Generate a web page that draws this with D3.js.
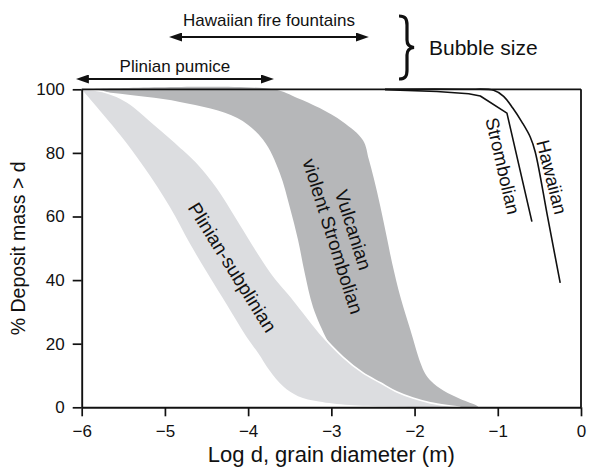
<!DOCTYPE html>
<html>
<head>
<meta charset="utf-8">
<script src="https://cdn.jsdelivr.net/npm/d3@7"></script>
<style>
  html, body { margin: 0; padding: 0; background: #fff; }
  svg { display: block; font-family: "Liberation Sans", Arial, Helvetica, sans-serif; }
</style>
</head>
<body>
<svg id="chart" width="597" height="469"></svg>
<script>
// Axis ticks
const xTicks = [-6, -5, -4, -3, -2, -1, 0];
const yTicks = [0, 20, 40, 60, 80, 100];

// Grain-size envelopes: [log d (m), % deposit mass > d]
// coarse edge runs top -> bottom on the right side of a field, fine edge on the left side
const plinianCoarseEdge = [
  [-6.0, 100], [-5.75, 99.3], [-5.45, 96], [-5.15, 89.5], [-4.82, 82], [-4.60, 76.5],
  [-4.37, 69], [-4.15, 60], [-3.94, 51], [-3.70, 41.5], [-3.46, 34], [-3.14, 23.4],
  [-2.86, 15.8], [-2.62, 10.8], [-2.41, 7.7], [-2.21, 4.8], [-2.02, 2.9], [-1.81, 1.4],
  [-1.57, 0.4], [-1.45, 0]
];
const plinianFineEdge = [
  [-6.0, 100], [-5.54, 85.7], [-5.25, 75.5], [-4.94, 63], [-4.70, 51.5], [-4.49, 42.2],
  [-4.25, 32], [-4.01, 21.8], [-3.88, 17.1], [-3.74, 11.5], [-3.58, 6.6], [-3.40, 3.5],
  [-3.15, 1.8], [-2.78, 0.7], [-1.97, 0]
];
const vulcanianCoarseEdge = [
  [-6.0, 100], [-3.70, 100], [-3.41, 97.3], [-3.14, 94.1], [-2.86, 89.7], [-2.62, 84],
  [-2.55, 78], [-2.49, 72], [-2.41, 63], [-2.33, 53], [-2.27, 45.4], [-2.17, 34.7],
  [-2.05, 24.3], [-1.93, 14.0], [-1.87, 10.5], [-1.80, 8.2], [-1.65, 5.2], [-1.45, 2.6],
  [-1.25, 0.5], [-1.23, 0]
];
const vulcanianFineEdge = [
  [-6.0, 100], [-5.62, 98.8], [-4.82, 96.0], [-4.13, 91.0], [-3.82, 84.1], [-3.62, 73.7],
  [-3.50, 63.0], [-3.40, 52.6], [-3.32, 42.2], [-3.22, 31.5], [-3.05, 21.2], [-2.93, 15.8],
  [-2.78, 11], [-2.47, 5.5], [-2.17, 2], [-1.81, 0.3], [-1.60, 0]
];

// Cumulative curves of bubble size
const strombolianCurve = [
  [-2.355, 99.9], [-1.73, 99.3], [-1.35, 98.6], [-1.21, 97.9], [-0.89, 92.5], [-0.59, 58.4]
];
const hawaiianCurve = [
  [-2.355, 100], [-1.40, 100], [-1.05, 99.7], [-0.93, 97.8], [-0.82, 94.1], [-0.71, 89.7],
  [-0.61, 85.0], [-0.55, 80.3], [-0.40, 59.7], [-0.25, 39.1]
];

// Bubble-size ranges shown as double arrows (log d)
const pumiceRange = [-6.07, -3.69];
const fountainRange = [-4.95, -2.55];

const svg = d3.select("#chart");
const x = d3.scaleLinear().domain([-6, 0]).range([81.7, 581]);
const y = d3.scaleLinear().domain([0, 100]).range([407.3, 89.3]);

const smooth = d3.line().x(d => x(d[0])).y(d => y(d[1])).curve(d3.curveCatmullRom.alpha(0.5));
const straight = d3.line().x(d => x(d[0])).y(d => y(d[1]));

function bandPath(coarse, fine) {
  const a = smooth(coarse);
  const b = smooth(fine.slice().reverse());
  return a + "L" + b.slice(1) + "Z";
}

// Vulcanian / violent Strombolian field
svg.append("path")
  .attr("d", bandPath(vulcanianCoarseEdge, vulcanianFineEdge))
  .attr("fill", "#b6b7b9");

// Plinian-subplinian field, drawn over the darker one
svg.append("path")
  .attr("d", bandPath(plinianCoarseEdge, plinianFineEdge))
  .attr("fill", "#dcdde0");
svg.append("path")
  .attr("d", smooth(plinianCoarseEdge))
  .attr("fill", "none")
  .attr("stroke", "#fff")
  .attr("stroke-width", 1.6);

// Bubble-size curves
svg.append("path").attr("d", straight(strombolianCurve))
  .attr("fill", "none").attr("stroke", "#111").attr("stroke-width", 1.6)
  .attr("stroke-linejoin", "round");
svg.append("path").attr("d", smooth(hawaiianCurve))
  .attr("fill", "none").attr("stroke", "#111").attr("stroke-width", 1.6);

// Axes
const axisFont = 17;
const gx = svg.append("g")
  .attr("transform", `translate(0,${y(0)})`)
  .call(d3.axisBottom(x).tickValues(xTicks).tickSize(9).tickSizeOuter(0).tickPadding(9)
    .tickFormat(d3.format("d")));
const gy = svg.append("g")
  .attr("transform", `translate(${x(-6)},0)`)
  .call(d3.axisLeft(y).tickValues(yTicks).tickSize(9).tickSizeOuter(0).tickPadding(8));
[gx, gy].forEach(g => {
  g.attr("font-family", null).attr("font-size", axisFont);
  g.selectAll("text").attr("fill", "#111");
  g.selectAll("line").attr("stroke", "#111").attr("stroke-width", 1.7);
  g.select(".domain").attr("stroke", "#111").attr("stroke-width", 1.9);
});

// Frame on top and right
svg.append("line")
  .attr("x1", x(-6)).attr("x2", x(0)).attr("y1", y(100)).attr("y2", y(100))
  .attr("stroke", "#111").attr("stroke-width", 1.8);
svg.append("line")
  .attr("x1", x(0)).attr("x2", x(0)).attr("y1", y(100)).attr("y2", y(0))
  .attr("stroke", "#111").attr("stroke-width", 1.8);

// Axis titles
svg.append("text")
  .attr("x", (x(-6) + x(0)) / 2).attr("y", 462)
  .attr("text-anchor", "middle").attr("font-size", 22).attr("fill", "#111")
  .text("Log d, grain diameter (m)");
svg.append("text")
  .attr("transform", `translate(25,${(y(0) + y(100)) / 2}) rotate(-90)`)
  .attr("text-anchor", "middle").attr("font-size", 19.5).attr("fill", "#111")
  .text("% Deposit mass > d");

// Field labels
function rotatedLabel(v, p, angle, lines, size, gap) {
  const g = svg.append("g")
    .attr("transform", `translate(${x(v)},${y(p)}) rotate(${angle})`);
  lines.forEach((t, i) => {
    g.append("text")
      .attr("x", 0)
      .attr("y", (i - (lines.length - 1) / 2) * gap)
      .attr("text-anchor", "middle")
      .attr("dominant-baseline", "central")
      .attr("font-size", size).attr("fill", "#111")
      .text(t);
  });
}
rotatedLabel(-4.19, 44.0, 58, ["Plinian-subplinian"], 19, 0);
rotatedLabel(-2.86, 54.8, 72.5, ["Vulcanian", "violent Strombolian"], 19, 21.5);
rotatedLabel(-0.94, 75.9, 77, ["Strombolian"], 18.5, 0);
rotatedLabel(-0.35, 72.4, 76, ["Hawaiian"], 18.5, 0);

// Double arrows for bubble-size ranges
const defs = svg.append("defs");
defs.append("marker")
  .attr("id", "head")
  .attr("viewBox", "0 0 13 9")
  .attr("refX", 7).attr("refY", 4.5)
  .attr("markerWidth", 13).attr("markerHeight", 9)
  .attr("markerUnits", "userSpaceOnUse")
  .attr("orient", "auto-start-reverse")
  .append("path").attr("d", "M0,0L13,4.5L0,9Z").attr("fill", "#111");

function rangeArrow(range, yPos) {
  const x0 = x(range[0]) + 6, x1 = x(range[1]) - 6;
  svg.append("line")
    .attr("x1", x0).attr("x2", x1).attr("y1", yPos).attr("y2", yPos)
    .attr("stroke", "#111").attr("stroke-width", 2)
    .attr("marker-start", "url(#head)").attr("marker-end", "url(#head)");
}
rangeArrow(fountainRange, 37);
rangeArrow(pumiceRange, 79);

svg.append("text")
  .attr("x", (x(fountainRange[0]) + x(fountainRange[1])) / 2).attr("y", 26)
  .attr("text-anchor", "middle").attr("font-size", 17).attr("fill", "#111")
  .text("Hawaiian fire fountains");
svg.append("text")
  .attr("x", (x(pumiceRange[0]) + x(pumiceRange[1])) / 2).attr("y", 72)
  .attr("text-anchor", "middle").attr("font-size", 17).attr("fill", "#111")
  .text("Plinian pumice");

// Brace grouping both ranges
svg.append("path")
  .attr("d", "M399,16 C405.5,16 407,19 407,25 L407,40 C407,44.5 409,47 414,47.5 C409,48 407,50.5 407,55 L407,70 C407,76 405.5,79 399,79")
  .attr("fill", "none").attr("stroke", "#111").attr("stroke-width", 3.2);
svg.append("text")
  .attr("x", 429).attr("y", 54.5)
  .attr("font-size", 21).attr("fill", "#111")
  .text("Bubble size");
</script>
</body>
</html>
